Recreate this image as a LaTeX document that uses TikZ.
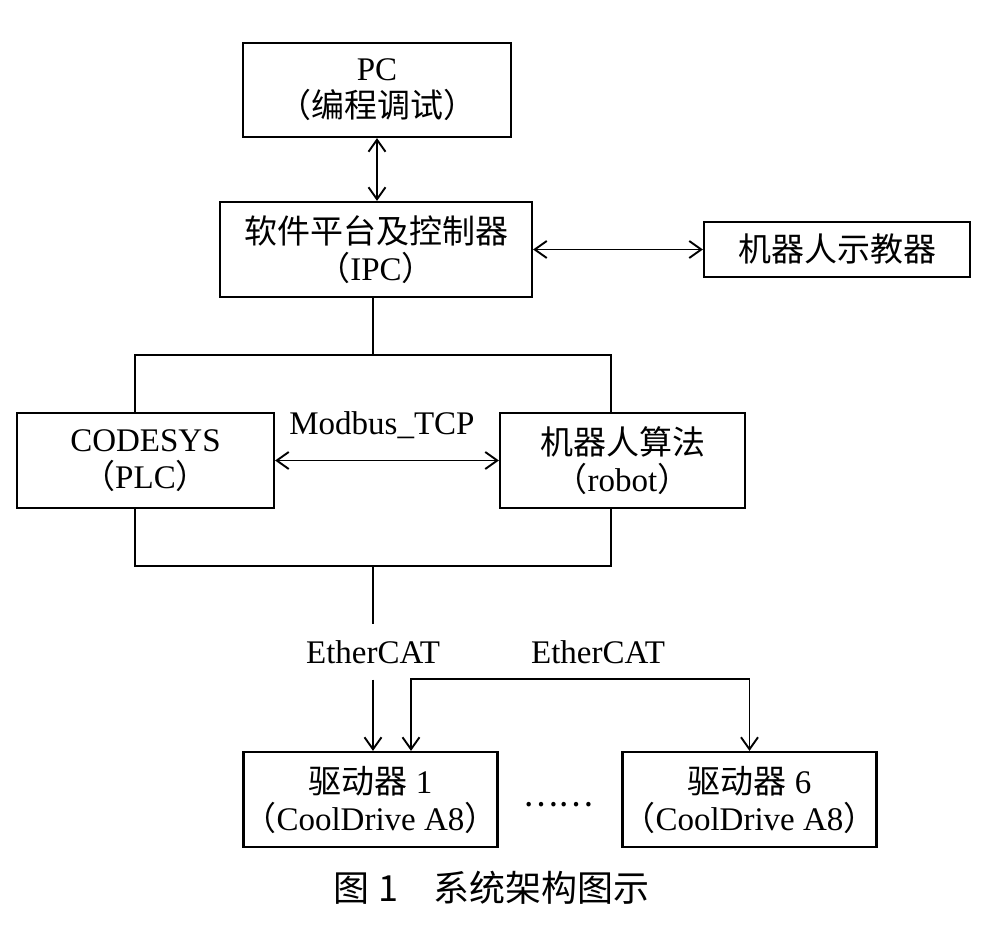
\documentclass[tikz,border=0pt]{standalone}
\usepackage{fontspec}
\setmainfont{Liberation Serif}
\newfontfamily\cjk{Noto Sans CJK SC}
\usepackage{tikz}
\usetikzlibrary{arrows.meta}
\tikzset{box/.style={draw, line width=2.2pt, align=center, inner sep=0pt}}
\tikzset{eth/.style={inner xsep=2pt, inner ysep=15pt}}
\newcommand{\lpar}{{\cjk （}}
\newcommand{\rpar}{{\cjk ）}}

\begin{document}
\begin{tikzpicture} [x=1pt, y=-1pt, line width=1.9pt, >={Straight Barb[length=12pt,width=17pt]}, font=\fontsize{33}{37}\selectfont]
\useasboundingbox (0,0) rectangle (996,933);
% boxes
\node[box, minimum width=268, minimum height=94] (pc) at (377,90) {PC\\\lpar{\cjk 编程调试}\rpar};
\node[box, minimum width=312, minimum height=95] (ipc) at (376,249.5) {{\cjk 软件平台及控制器}\\\lpar IPC\rpar};
\node[box, minimum width=266, minimum height=55] (teach) at (837,249.5) {\cjk 机器人示教器};
\node[box, minimum width=257, minimum height=95] (plc) at (145.5,460.5) {CODESYS\\\lpar PLC\rpar};
\node[box, minimum width=245, minimum height=95] (robot) at (622.5,460.5) {{\cjk 机器人算法}\\\lpar robot\rpar};
\node[box, minimum width=247, minimum height=95] (drv1) at (370.5,799.5) {{\cjk 驱动器} 1\\\lpar CoolDrive A8\rpar};
\node[box, minimum width=247, minimum height=95] (drv6) at (749.5,799.5) {{\cjk 驱动器} 6\\\lpar CoolDrive A8\rpar};
\node (dots) at (558,805) {\cjk ……};
\node[eth] (eth1) at (373,652) {EtherCAT};
\node[eth] (eth2) at (598,652) {EtherCAT};
\coordinate (ul) at (135,355);
\coordinate (ur) at (611,355);
\coordinate (ll) at (135,566);
\coordinate (lr) at (611,566);
\coordinate (bus) at (598,679);
% links
\draw[<->] (pc.south) -- (pc.south |- ipc.north);
\draw[<->] (ipc) -- (teach);
\draw[<->] (plc) -- node[anchor=base, xshift=-5pt, yshift=26pt] (mb) {Modbus\_TCP} (robot);
\draw (ipc.south -| eth1) -- (ul -| eth1);
\draw (plc.north -| ul) -- (ul) -- (ur) -- (robot.north -| ur);
\draw (plc.south -| ll) -- (ll) -- (lr) -- (robot.south -| lr);
\draw (ll -| eth1) -- (eth1.north);
\draw[->] (eth1.south) -- (eth1.south |- drv1.north);
\draw[<->] ([xshift=40.5pt]drv1.north) |- (bus) -| (drv6.north);
% caption
\node[font=\fontsize{36}{40}\selectfont] (cap) at (492,888) {\cjk 图 1\quad 系统架构图示};
\end{tikzpicture}
\end{document}
